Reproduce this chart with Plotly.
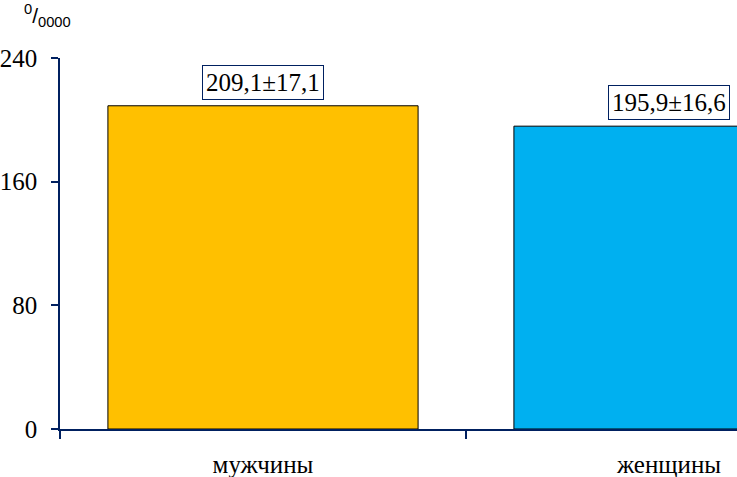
import plotly.graph_objects as go

categories = ["мужчины", "женщины"]
values = [209.1, 195.9]
errors = [17.1, 16.6]
colors = ["#FFC000", "#00B0F0"]
y_ticks = [0, 80, 160, 240]

labels = [f"{v:.1f}±{e:.1f}".replace(".", ",") for v, e in zip(values, errors)]

FONT = "Liberation Serif"
NAVY = "#002060"

fig = go.Figure()
fig.add_trace(go.Bar(
    x=categories, y=values,
    marker=dict(color=colors, line=dict(color="black", width=1)),
    width=0.764,
    hoverinfo="skip",
))

for c, v, t in zip(categories, values, labels):
    fig.add_annotation(
        x=c, y=v, xref="x", yref="y", text=t, showarrow=False,
        yanchor="bottom", yshift=6,
        font=dict(family=FONT, size=25, color="black"),
        bordercolor=NAVY, borderwidth=1, borderpad=3, bgcolor="white",
    )

fig.add_annotation(
    xref="paper", yref="paper", x=-0.019, y=1.115, xanchor="center", yanchor="middle",
    text="<sup>0</sup>/<sub>0000</sub>", showarrow=False,
    font=dict(family="Liberation Sans", size=21, color="black"),
)

fig.update_layout(
    width=737, height=477,
    margin=dict(l=60, r=0, t=58, b=48, autoexpand=False),
    paper_bgcolor="white", plot_bgcolor="white",
    showlegend=False,
    font=dict(family=FONT, size=24, color="black"),
    xaxis=dict(
        type="category", range=[-0.5, -0.5 + 677 / 406],
        showline=True, linecolor=NAVY, linewidth=1.5,
        ticks="outside", tickson="boundaries", ticklen=8, tickcolor=NAVY, tickwidth=1.5,
        ticklabelstandoff=12,
        showgrid=False, zeroline=False, automargin=False,
        tickfont=dict(family=FONT, size=25, color="black"),
    ),
    yaxis=dict(
        range=[0, 240], tickvals=y_ticks,
        showline=True, linecolor=NAVY, linewidth=1.5,
        ticks="outside", ticklen=7, tickcolor=NAVY, tickwidth=1.5,
        ticklabelstandoff=9,
        showgrid=False, zeroline=False, automargin=False,
        tickfont=dict(family=FONT, size=25, color="black"),
    ),
)

fig.write_html(
    "out.html",
    config={"displayModeBar": False},
    post_script="document.body.style.margin='0';document.body.style.padding='0';",
)
